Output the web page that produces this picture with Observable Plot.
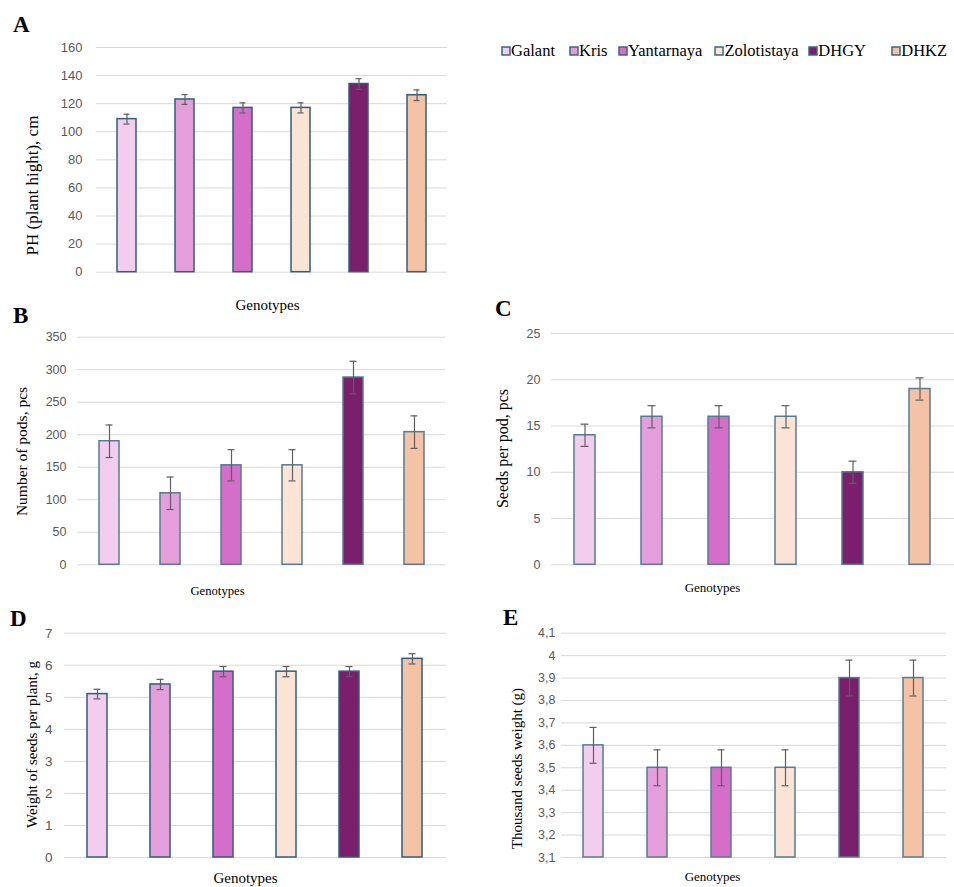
<!DOCTYPE html>
<html><head><meta charset="utf-8">
<script src="https://cdn.jsdelivr.net/npm/d3@7"></script>
<script src="https://cdn.jsdelivr.net/npm/@observablehq/plot@0.6"></script>
<style>
html,body{margin:0;padding:0;background:#fff;}
#fig{position:relative;width:954px;height:887px;overflow:hidden;background:#fff;}
.panel{position:absolute;}
.plab{position:absolute;font-family:"Liberation Serif","Times New Roman",serif;font-weight:bold;font-size:23px;line-height:1;color:#000;}
#legend{position:absolute;left:502px;top:41px;}
#legend, #legend *{font-family:"Liberation Serif","Times New Roman",serif !important;font-size:16.5px !important;color:#000;}
#legend > div{margin:0 !important;min-height:0 !important;display:flex !important;align-items:center;flex-wrap:nowrap !important;}
#legend > div > span, #legend > div > div{display:inline-flex !important;align-items:center;margin-right:0 !important;white-space:nowrap;}
#legend > div > span:nth-of-type(1), #legend > div > div:nth-of-type(1){margin-right:15px !important;}
#legend > div > span:nth-of-type(2), #legend > div > div:nth-of-type(2){margin-right:11.6px !important;}
#legend > div > span:nth-of-type(3), #legend > div > div:nth-of-type(3){margin-right:13px !important;}
#legend > div > span:nth-of-type(4), #legend > div > div:nth-of-type(4){margin-right:10.7px !important;}
#legend > div > span:nth-of-type(5), #legend > div > div:nth-of-type(5){margin-right:26.3px !important;}
#legend svg{margin-right:1px !important;overflow:visible;}
#legend svg rect{stroke:#3b6783;stroke-width:1.5px;}
</style></head>
<body>
<div id="fig"></div>
<script>
const genotypes = ["Galant", "Kris", "Yantarnaya", "Zolotistaya", "DHGY", "DHKZ"];
const colors = ["#f2cdee", "#e39edb", "#d56ec8", "#fbe3d6", "#7a1f6b", "#f4c2a4"];

const phValues = [109, 123, 117, 117, 134, 126];
const phErrors = [3.5, 3.5, 3.6, 3.6, 3.8, 3.8];
const phTicks = [0, 20, 40, 60, 80, 100, 120, 140, 160];

const podsValues = [190, 110, 153, 153, 288, 204];
const podsErrors = [25, 25, 24, 24, 25, 25];
const podsTicks = [0, 50, 100, 150, 200, 250, 300, 350];

const seedsPodValues = [14, 16, 16, 16, 10, 19];
const seedsPodErrors = [1.2, 1.2, 1.2, 1.2, 1.2, 1.2];
const seedsPodTicks = [0, 5, 10, 15, 20, 25];

const seedWeightValues = [5.1, 5.4, 5.8, 5.8, 5.8, 6.2];
const seedWeightErrors = [0.15, 0.16, 0.16, 0.16, 0.16, 0.16];
const seedWeightTicks = [0, 1, 2, 3, 4, 5, 6, 7];

const tswValues = [3.6, 3.5, 3.5, 3.5, 3.9, 3.9];
const tswErrors = [0.08, 0.08, 0.08, 0.08, 0.08, 0.08];
const tswTicks = [3.1, 3.2, 3.3, 3.4, 3.5, 3.6, 3.7, 3.8, 3.9, 4.0, 4.1];

const panelLabels = ["A", "B", "C", "D", "E"];
const xTitle = "Genotypes";
const yTitles = ["PH (plant hight), cm", "Number of pods, pcs", "Seeds per pod, pcs", "Weight of seeds per plant, g", "Thousand seeds weight (g)"];

const serif = '"Liberation Serif","Times New Roman",serif';
const tickFont = '"Liberation Sans Narrow","Liberation Sans",Arial,sans-serif';
const errColor = "#5f5f5f";

const fig = document.getElementById("fig");

function panel(cfg) {
  const data = genotypes.map((g, i) => ({g, v: cfg.values[i], e: cfg.errors[i]}));
  const base = cfg.ticks[0];
  const svg = Plot.plot({
    width: cfg.w, height: cfg.h,
    marginLeft: cfg.fx0 - cfg.left,
    marginRight: cfg.left + cfg.w - cfg.fx1,
    marginTop: cfg.fy0 - cfg.top,
    marginBottom: cfg.top + cfg.h - cfg.fy1,
    x: {domain: genotypes, paddingInner: 0.68, paddingOuter: 0.34, axis: null},
    y: {domain: [cfg.ticks[0], cfg.ticks[cfg.ticks.length - 1]]},
    color: {domain: genotypes, range: colors},
    style: {background: "transparent", overflow: "visible", maxWidth: "none", fontFamily: tickFont, fontSize: cfg.tickSize + "px"},
    marks: [
      Plot.gridY(cfg.ticks, {stroke: "#d9d9d9", strokeOpacity: 1, strokeWidth: 1}),
      Plot.barY(data, {x: "g", y1: base, y2: "v", fill: "g", stroke: cfg.barStroke, strokeWidth: 1.5}),
      Plot.ruleX(data, {x: "g", y1: d => d.v - d.e, y2: d => d.v + d.e, stroke: errColor, strokeWidth: 1.2}),
      Plot.tickY(data, {x: "g", y: d => d.v + d.e, stroke: errColor, strokeWidth: 1.2, insetLeft: 6.5, insetRight: 6.5}),
      Plot.tickY(data, {x: "g", y: d => d.v - d.e, stroke: errColor, strokeWidth: 1.2, insetLeft: 6.5, insetRight: 6.5}),
      Plot.axisY(cfg.ticks, {tickSize: 0, tickPadding: cfg.tickPad, tickFormat: cfg.fmt, color: "#595959", label: null}),
      Plot.text([cfg.ylabel], {frameAnchor: "left", text: d => d, rotate: -90, textAnchor: "middle", lineAnchor: "middle",
        dx: cfg.yl[0] - cfg.fx0, dy: cfg.yl[1] - (cfg.fy0 + cfg.fy1) / 2, fontFamily: serif, fontSize: cfg.ylSize, fill: "#000"}),
      Plot.text([xTitle], {frameAnchor: "bottom", text: d => d, textAnchor: "middle", lineAnchor: "middle",
        dx: cfg.xl[0] - (cfg.fx0 + cfg.fx1) / 2, dy: cfg.xl[1] - cfg.fy1, fontFamily: serif, fontSize: cfg.xlSize, fill: "#000"})
    ]
  });
  svg.classList.add("panel");
  svg.style.left = cfg.left + "px";
  svg.style.top = cfg.top + "px";
  fig.appendChild(svg);
  const lab = document.createElement("div");
  lab.className = "plab";
  lab.textContent = cfg.label;
  lab.style.left = cfg.lab[0] + "px";
  lab.style.top = (cfg.lab[1] - 19.3) + "px";
  fig.appendChild(lab);
}

const fmtComma = d => String(Math.round(d * 10) / 10).replace(".", ",");

panel({label: panelLabels[0], lab: [13, 32], values: phValues, errors: phErrors, ticks: phTicks,
  left: 0, top: 0, w: 480, h: 320, fx0: 96, fx1: 447, fy0: 47, fy1: 271.7,
  tickSize: 13, tickPad: 14, barStroke: "#2f5f7f", ylabel: yTitles[0], yl: [32, 185], ylSize: 17, xl: [267, 305], xlSize: 15});

panel({label: panelLabels[1], lab: [13, 323], values: podsValues, errors: podsErrors, ticks: podsTicks,
  left: 0, top: 300, w: 480, h: 310, fx0: 77, fx1: 445, fy0: 336.7, fy1: 564.3,
  tickSize: 12.5, tickPad: 11, barStroke: "#557c93", ylabel: yTitles[1], yl: [22, 451], ylSize: 15.5, xl: [217, 590], xlSize: 12.7});

panel({label: panelLabels[2], lab: [495, 316], values: seedsPodValues, errors: seedsPodErrors, ticks: seedsPodTicks,
  left: 480, top: 300, w: 474, h: 310, fx0: 551, fx1: 954, fy0: 333, fy1: 564.3,
  tickSize: 12.5, tickPad: 11, barStroke: "#557c93", ylabel: yTitles[2], yl: [502, 448], ylSize: 16, xl: [712, 587], xlSize: 13});

panel({label: panelLabels[3], lab: [10, 626], values: seedWeightValues, errors: seedWeightErrors, ticks: seedWeightTicks,
  left: 0, top: 600, w: 480, h: 287, fx0: 64, fx1: 446, fy0: 632.7, fy1: 857,
  tickSize: 13.5, tickPad: 12, barStroke: "#2f5f7f", ylabel: yTitles[3], yl: [32, 744], ylSize: 15, xl: [245, 878], xlSize: 15});

panel({label: panelLabels[4], lab: [503, 625], values: tswValues, errors: tswErrors, ticks: tswTicks, fmt: fmtComma,
  left: 480, top: 600, w: 474, h: 287, fx0: 561, fx1: 946, fy0: 632.7, fy1: 857,
  tickSize: 12.5, tickPad: 6, barStroke: "#557c93", ylabel: yTitles[4], yl: [517, 768], ylSize: 15, xl: [712, 876], xlSize: 13});

const legendWrap = document.createElement("div");
legendWrap.id = "legend";
legendWrap.appendChild(Plot.legend({color: {type: "ordinal", domain: genotypes, range: colors}, legend: "swatches", swatchSize: 8, className: "lg"}));
fig.appendChild(legendWrap);
</script>
</body></html>
